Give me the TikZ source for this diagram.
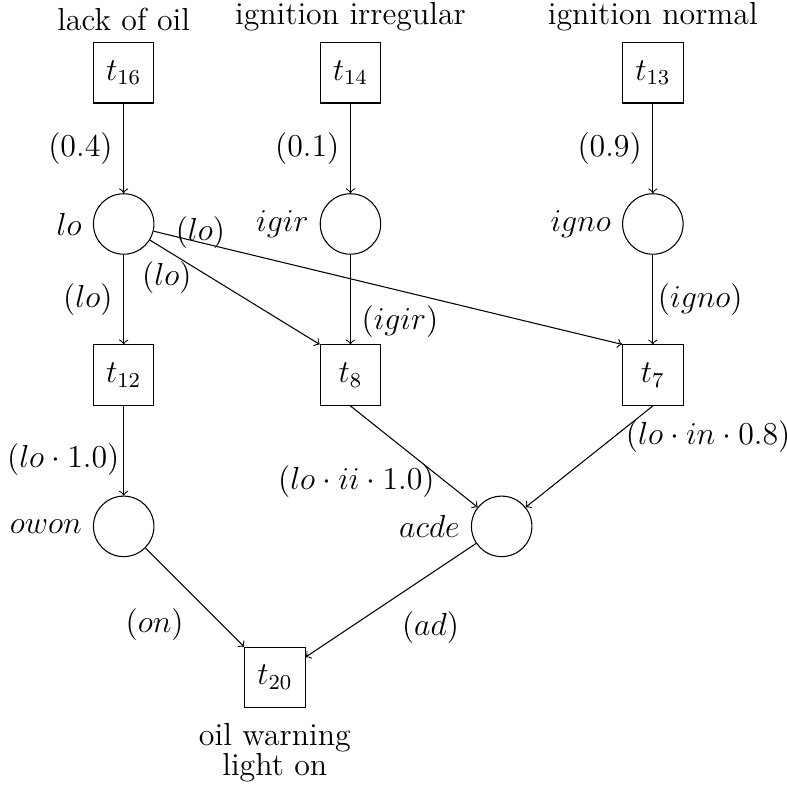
\documentclass[tikz,border=0pt,12pt]{standalone}
\usepackage{amsmath,amssymb}
\usepackage{tikz}
\tikzset{
  trans/.style={draw,rectangle,minimum size=0.8cm,inner sep=0pt},
  place/.style={draw,circle,minimum size=0.8cm,inner sep=0pt}
}

\begin{document}
\begin{tikzpicture}
  \useasboundingbox (-1.636,-7.527) rectangle (8.774,2.963);
  % transitions
  \node[trans,label={above:lack of oil}] (t16) at (0,2) {$t_{16}$};
  \node[trans,label={above:ignition irregular}] (t14) at (3,2) {$t_{14}$};
  \node[trans,label={above:ignition normal}] (t13) at (7,2) {$t_{13}$};
  \node[trans] (t12) at (0,-2) {$t_{12}$};
  \node[trans] (t8) at (3,-2) {$t_{8}$};
  \node[trans] (t7) at (7,-2) {$t_{7}$};
  \node[trans,label={[align=center,label distance=1.5pt]below:{oil warning\\[-3.3pt]light on}}] (t20) at (2,-6) {$t_{20}$};
  % places
  \node[place,label={left:$lo$}] (lo) at (0,0) {};
  \node[place,label={left:$igir$}] (igir) at (3,0) {};
  \node[place,label={left:$igno$}] (igno) at (7,0) {};
  \node[place,label={left:$owon$}] (owon) at (0,-4) {};
  \node[place,label={left:$acde$}] (acde) at (5,-4) {};
  % arcs
  \draw[->] (t16) -- node[left] {$(0.4)$} (lo);
  \draw[->] (t14) -- node[left] {$(0.1)$} (igir);
  \draw[->] (t13) -- node[left] {$(0.9)$} (igno);
  \draw[->] (lo) -- node[left] {$(lo)$} (t12);
  \draw[->] (lo) -- node[pos=0.1,below] {$(lo)$} (t8.north west);
  \draw[->] (lo) -- node[pos=0.1,yshift=1.3mm] {$(lo)$} (t7.north west);
  \draw[->] (igir) -- node[near end,right] {$(igir)$} (t8);
  \draw[->] (igno) -- node[right,xshift=-0.8mm] {$(igno)$} (t7);
  \draw[->] (t12) -- node[pos=0.6,left,xshift=0.9mm] {$(lo\cdot 1.0)$} (owon);
  \draw[->] (t8.south) -- node[near end,left] {$(lo\cdot ii\cdot 1.0)$} (acde);
  \draw[->] (t7.south) -- node[pos=0.3,right] {$(lo\cdot in\cdot 0.8)$} (acde);
  \draw[->] (owon) -- node[midway,below left] {$(on)$} (t20.north west);
  \draw[->] (acde) -- node[midway,below right] {$(ad)$} (t20);
\end{tikzpicture}
\end{document}
